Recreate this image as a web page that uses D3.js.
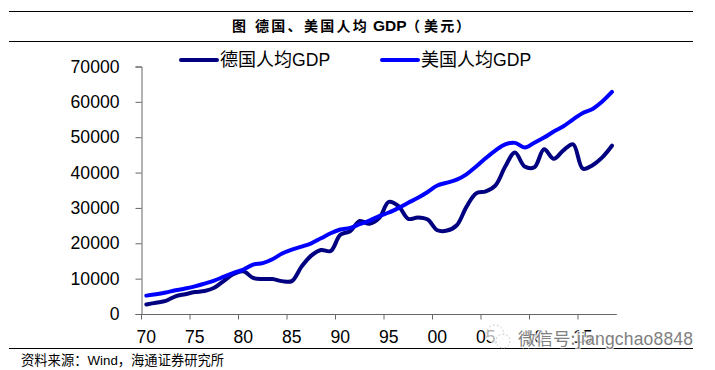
<!DOCTYPE html>
<html lang='en'>
<head>
<meta charset='utf-8'>
<title>GDP per capita</title>
<script src="https://cdnjs.cloudflare.com/ajax/libs/d3/7.8.5/d3.min.js"></script>
<style>
	html, body { margin: 0; padding: 0; background: #fff; }
	svg { display: block; }
	text { font-family: 'Liberation Sans', Arial, sans-serif; fill: #000; }
	.cjk { font-family: 'Noto Sans CJK SC', 'Liberation Sans', sans-serif; }
	.latin { font-family: 'Liberation Sans', Arial, sans-serif; }
</style>
</head>
<body>
<svg id='chart' width='715' height='370'></svg>
<script>
	// two digit labels, one category per year
	var years = ['70','71','72','73','74','75','76','77','78','79','80','81','82','83','84','85','86','87','88','89','90','91','92','93','94','95','96','97','98','99','00','01','02','03','04','05','06','07','08','09','10','11','12','13','14','15','16','17','18'];
	var germany = [2700,3200,3700,5000,5600,6200,6500,7400,9400,11300,12100,10200,9900,9900,9300,9300,13400,16500,18100,17800,22400,23400,26300,25500,27100,31700,30500,26900,27300,26700,23700,23600,25100,30300,34100,34700,36400,41700,45700,41700,41500,46600,43900,46300,48000,41100,42100,44300,47600];
	var usa = [5200,5600,6100,6700,7200,7800,8600,9450,10550,11650,12550,13950,14400,15500,17100,18200,19050,20000,21400,22850,23900,24350,25400,26400,27700,28700,30000,31450,32850,34500,36350,37150,38000,39500,41700,44100,46300,48000,48400,47100,48450,49900,51600,53100,55050,56850,58000,60100,62800];
	var yTicks = [0,10000,20000,30000,40000,50000,60000,70000];
	var xLabels = ['70','75','80','85','90','95','00','05','10','15'];

	var svg = d3.select('#chart');

	var x = d3.scaleBand().domain(years).range([141.5, 616.8]);
	var y = d3.scaleLinear().domain([0, 70000]).range([314, 66.5]);

	// top and bottom rules
	[11.5, 41.5, 348.5].forEach(function(ry){
		svg.append('line')
			.attr('x1', 9).attr('x2', 693)
			.attr('y1', ry).attr('y2', ry)
			.attr('stroke', '#000').attr('stroke-width', 1);
	});

	// title pieces are placed one by one, the spacing is uneven in the original
	var title = svg.append('text')
		.attr('class', 'cjk')
		.attr('y', 31)
		.attr('font-size', 14).attr('font-weight', 700);
	title.append('tspan').attr('x', 232).text('图');
	title.append('tspan').attr('x', 255).attr('letter-spacing', 2.3).text('德国、美国人均');
	title.append('tspan').attr('x', 373).attr('class', 'latin').attr('font-size', 15.5).text('GDP');
	title.append('tspan').attr('x', 406).text('（');
	title.append('tspan').attr('x', 424).attr('letter-spacing', 2.3).text('美元');
	title.append('tspan').attr('x', 456).text('）');

	var source = svg.append('text')
		.attr('class', 'cjk')
		.attr('x', 21).attr('y', 364.5)
		.attr('font-size', 13.3);
	source.append('tspan').text('资料来源：');
	source.append('tspan').attr('class', 'latin').text('Wind');
	source.append('tspan').text('，海通证券研究所');

	// y axis
	var axisY = d3.axisLeft(y).tickValues(yTicks).tickSize(6).tickPadding(16).tickFormat(d3.format('d'));
	var gy = svg.append('g')
		.attr('transform', 'translate(141.5, 0)')
		.call(axisY);
	gy.selectAll('text').attr('font-size', 17.6).attr('fill', '#000').style('font-family', "'Liberation Sans'");
	gy.selectAll('path, line').attr('stroke', '#666').attr('stroke-width', 1);

	// x axis, ticks sit between the categories
	var axisX = d3.axisBottom(x).tickValues(xLabels).tickSize(0).tickPadding(16);
	var gx = svg.append('g')
		.attr('transform', 'translate(0, 314.5)')
		.call(axisX);
	gx.selectAll('path').attr('stroke', '#666').attr('d', 'M141.5,0H616.8');
	gx.selectAll('text').attr('font-size', 17.6).attr('fill', '#000').style('font-family', "'Liberation Sans'");
	gx.selectAll('.tick line')
		.attr('stroke', '#666')
		.attr('y2', 5)
		.attr('x1', -x.bandwidth() / 2)
		.attr('x2', -x.bandwidth() / 2);

	var line = d3.line()
		.x(function(d, i){ return x(years[i]) + x.bandwidth() / 2; })
		.y(function(d){ return y(d); })
		.curve(d3.curveCatmullRom);

	svg.append('path').datum(germany)
		.attr('fill', 'none').attr('stroke', '#000080').attr('stroke-width', 4)
		.attr('stroke-linecap', 'round').attr('d', line);
	svg.append('path').datum(usa)
		.attr('fill', 'none').attr('stroke', '#0000ff').attr('stroke-width', 4)
		.attr('stroke-linecap', 'round').attr('d', line);

	// legend
	var legendNames = ['德国人均', '美国人均'];
	var legendColors = ['#000080', '#0000ff'];
	var legendX = [181, 382];
	legendNames.forEach(function(name, i){
		svg.append('line')
			.attr('x1', legendX[i]).attr('x2', legendX[i] + 36)
			.attr('y1', 60).attr('y2', 60)
			.attr('stroke', legendColors[i]).attr('stroke-width', 4)
			.attr('stroke-linecap', 'round');
		var t = svg.append('text')
			.attr('class', 'cjk')
			.attr('x', legendX[i] + 39).attr('y', 66)
			.attr('font-size', 18);
		t.append('tspan').text(name);
		t.append('tspan').attr('class', 'latin').attr('font-size', 17.6).text('GDP');
	});

	// watermark over the last labels
	var mark = svg.append('g');
	mark.append('circle').attr('cx', 495).attr('cy', 334).attr('r', 9)
		.attr('fill', '#fff').attr('fill-opacity', 0.7).attr('stroke', '#ccc').attr('stroke-dasharray', '2 2');
	mark.append('circle').attr('cx', 503).attr('cy', 341).attr('r', 7)
		.attr('fill', '#fff').attr('fill-opacity', 0.7).attr('stroke', '#ccc').attr('stroke-dasharray', '2 2');
	var wm = mark.append('text')
		.attr('class', 'cjk')
		.attr('x', 518).attr('y', 345)
		.attr('font-size', 17.5)
		.attr('stroke', '#fff').attr('stroke-width', 2.5)
		.attr('stroke-opacity', 0.8)
		.attr('paint-order', 'stroke')
		.style('fill', '#808080');
	wm.append('tspan').text('微信号:');
	wm.append('tspan').attr('class', 'latin').attr('x', 577).attr('textLength', 116).text('jiangchao8848');
</script>
</body>
</html>
